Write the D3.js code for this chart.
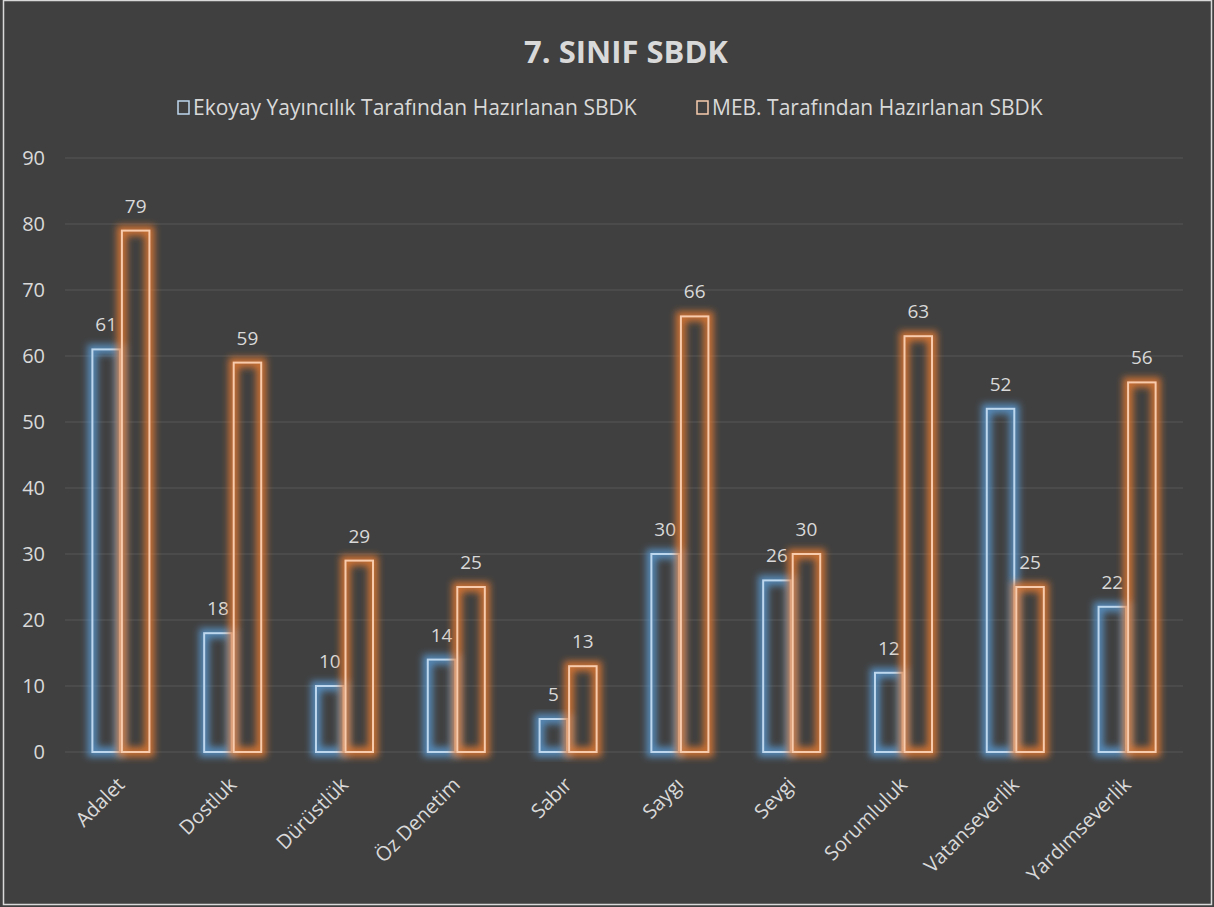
<!DOCTYPE html>
<html>
<head>
<meta charset="utf-8">
<script src="https://cdn.jsdelivr.net/npm/d3@7"></script>
<style>
  html, body { margin: 0; padding: 0; background: #fff; }
  svg { display: block; }
  text { font-family: "Open Sans", "Noto Sans", sans-serif; }
</style>
</head>
<body>
<div id="chart"></div>
<script>
const categories = ["Adalet", "Dostluk", "Dürüstlük", "Öz Denetim", "Sabır", "Saygı", "Sevgi", "Sorumluluk", "Vatanseverlik", "Yardımseverlik"];
const seriesNames = ["Ekoyay Yayıncılık Tarafından Hazırlanan SBDK", "MEB. Tarafından Hazırlanan SBDK"];
const ekoyay = [61, 18, 10, 14, 5, 30, 26, 12, 52, 22];
const meb = [79, 59, 29, 25, 13, 66, 30, 63, 25, 56];
const yTicks = [0, 10, 20, 30, 40, 50, 60, 70, 80, 90];

const W = 1214, H = 907;
const plot = {left: 65, right: 1183, top: 158, bottom: 752};
const strokeCols = ["#bdd7ee", "#f8cbad"];
const glowCols = ["#5b9bd5", "#ed7d31"];
const textCol = "#d9d9d9";

const svg = d3.select("#chart").append("svg")
    .attr("width", W)
    .attr("height", H);

// glow filter
const defs = svg.append("defs");
const f = defs.append("filter").attr("id", "glow")
    .attr("x", "-60%").attr("y", "-30%").attr("width", "220%").attr("height", "160%");
f.append("feGaussianBlur").attr("stdDeviation", 3.5);

svg.append("rect")
    .attr("x", 0).attr("y", 0).attr("width", W).attr("height", H)
    .attr("fill", "#404040");
svg.append("rect")
    .attr("x", 3.5).attr("y", 0.5).attr("width", 1208).attr("height", 904)
    .attr("fill", "none").attr("stroke", "#d9d9d9").attr("stroke-width", 1.5);

svg.append("text")
    .attr("x", 626).attr("y", 63)
    .attr("text-anchor", "middle")
    .attr("fill", textCol)
    .style("font-size", "31px").style("font-weight", "bold")
    .text("7. SINIF SBDK");

const x0 = d3.scaleBand().domain(categories).range([plot.left, plot.right]).paddingInner(0.472).paddingOuter(0.236);
const x1 = d3.scaleBand().domain([0, 1]).range([0, x0.bandwidth()]);
const y = d3.scaleLinear().domain([0, 90]).range([plot.bottom, plot.top]);

// gridlines
svg.append("g").selectAll("line")
    .data(yTicks)
    .enter().append("line")
    .attr("x1", plot.left).attr("x2", plot.right)
    .attr("y1", d => y(d)).attr("y2", d => y(d))
    .attr("stroke", "#575757").attr("stroke-width", 1);

// y axis labels
svg.append("g").selectAll("text")
    .data(yTicks)
    .enter().append("text")
    .attr("x", 45).attr("y", d => y(d) + 7)
    .attr("text-anchor", "end")
    .attr("fill", textCol)
    .style("font-size", "20px")
    .text(d => d);

const series = [ekoyay, meb];
series.forEach((vals, s) => {
    const g = svg.append("g");
    // glow
    g.selectAll("rect.glow")
        .data(vals)
        .enter().append("rect")
        .attr("class", "glow")
        .attr("x", (d, i) => x0(categories[i]) + x1(s) + 1)
        .attr("y", d => y(d))
        .attr("width", x1.bandwidth() - 2)
        .attr("height", d => y(0) - y(d))
        .attr("fill", "none")
        .attr("stroke", glowCols[s])
        .attr("stroke-width", 10)
        .attr("stroke-opacity", 0.8)
        .attr("filter", "url(#glow)");
    g.selectAll("rect.bar")
        .data(vals)
        .enter().append("rect")
        .attr("class", "bar")
        .attr("x", (d, i) => x0(categories[i]) + x1(s) + 1)
        .attr("y", d => y(d))
        .attr("width", x1.bandwidth() - 2)
        .attr("height", d => y(0) - y(d))
        .attr("fill", "none")
        .attr("stroke", strokeCols[s])
        .attr("stroke-width", 2);
    g.selectAll("text")
        .data(vals)
        .enter().append("text")
        .attr("x", (d, i) => x0(categories[i]) + x1(s) + x1.bandwidth() / 2)
        .attr("y", d => y(d) - 18)
        .attr("text-anchor", "middle")
        .attr("fill", textCol)
        .style("font-size", "19px")
        .text(d => d);
});

// category labels
svg.append("g").selectAll("text")
    .data(categories)
    .enter().append("text")
    .attr("transform", d => "translate(" + (x0(d) + x0.bandwidth() / 2 + 5) + "," + (plot.bottom + 34) + ") rotate(-45)")
    .attr("text-anchor", "end")
    .attr("fill", textCol)
    .style("font-size", "20px")
    .text(d => d);

// legend
const legend = svg.append("g");
const legendX = [178, 697];
seriesNames.forEach((name, i) => {
    legend.append("rect")
        .attr("x", legendX[i]).attr("y", 101)
        .attr("width", 11).attr("height", 13)
        .attr("fill", "none")
        .attr("stroke", strokeCols[i]).attr("stroke-width", 1.5);
    legend.append("text")
        .attr("x", legendX[i] + 15).attr("y", 115)
        .attr("fill", textCol)
        .style("font-size", "21px")
        .text(name);
});
</script>
</body>
</html>
